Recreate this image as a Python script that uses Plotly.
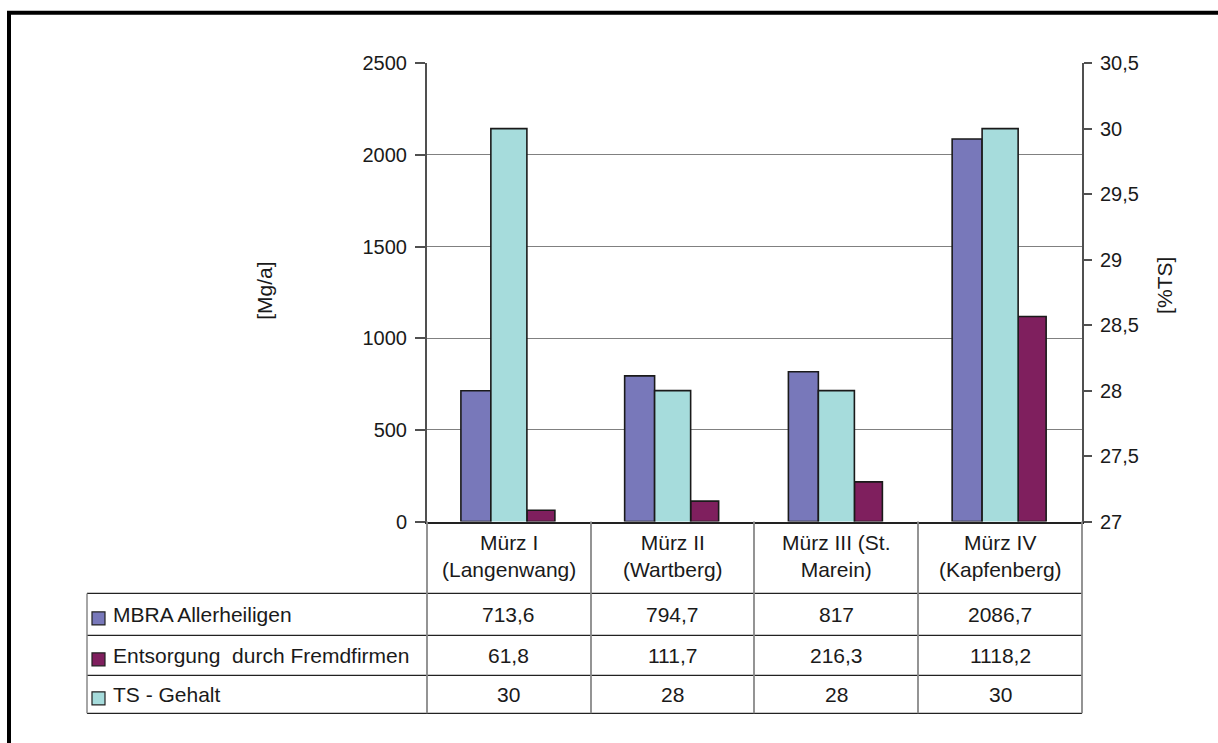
import plotly.graph_objects as go

# ---------------- data ----------------
categories = ["Mürz I (Langenwang)", "Mürz II (Wartberg)", "Mürz III (St. Marein)", "Mürz IV (Kapfenberg)"]
category_labels = ["Mürz I<br>(Langenwang)", "Mürz II<br>(Wartberg)", "Mürz III (St.<br>Marein)", "Mürz IV<br>(Kapfenberg)"]
series_names = ["MBRA Allerheiligen", "Entsorgung  durch Fremdfirmen", "TS - Gehalt"]
mbra = [713.6, 794.7, 817, 2086.7]
entsorgung = [61.8, 111.7, 216.3, 1118.2]
ts_gehalt = [30, 28, 28, 30]

left_ticks = [0, 500, 1000, 1500, 2000, 2500]
right_ticks = [27, 27.5, 28, 28.5, 29, 29.5, 30, 30.5]

# ---------------- style ----------------
W, H = 1218, 743
FONT = "Liberation Sans, Arial, sans-serif"
FS_TICK = 20
FS = 21
C_MBRA = "#7878BA"
C_ENT = "#7F1F5E"
C_TS = "#A6DCDC"
AXIS_C = "#505050"
GRID_C = "#808080"

# vertical calibration of the page capture
Y_OFF, Y_K = 9.75, 0.9717


def px(x):
    return x / W


def py(y):
    yf = (y - Y_OFF) / Y_K
    return 1 - yf / H


X_L, X_R = 427, 1082
Y_T, Y_B = 62, 521


def fmt(v):
    return ("%g" % v).replace(".", ",")


fig = go.Figure()

bar_line = dict(color="#1a1a1a", width=1.6)
fig.add_trace(go.Bar(x=categories, y=mbra, name=series_names[0], marker=dict(color=C_MBRA, line=bar_line),
                     offset=-0.293, width=0.183, yaxis="y", showlegend=False))
fig.add_trace(go.Bar(x=categories, y=ts_gehalt, name=series_names[2], marker=dict(color=C_TS, line=bar_line),
                     offset=-0.110, width=0.220, yaxis="y2", showlegend=False))
fig.add_trace(go.Bar(x=categories, y=entsorgung, name=series_names[1], marker=dict(color=C_ENT, line=bar_line),
                     offset=0.110, width=0.171, yaxis="y", showlegend=False))

fig.update_layout(
    width=W, height=H,
    margin=dict(l=0, r=0, t=0, b=0),
    paper_bgcolor="white", plot_bgcolor="white",
    separators=",.",
    barmode="overlay",
    font=dict(family=FONT, size=FS, color="#1a1a1a"),
    xaxis=dict(domain=[px(X_L), px(X_R)], type="category", range=[-0.5, 3.5],
               showticklabels=False, ticks="", showgrid=False, zeroline=False,
               showline=True, linecolor="#222222", linewidth=1.5),
    yaxis=dict(domain=[py(Y_B), py(Y_T)], range=[0, 2500], tickvals=left_ticks,
               showgrid=True, gridcolor=GRID_C, gridwidth=1, zeroline=False,
               showline=True, linecolor=AXIS_C, linewidth=2,
               ticks="outside", ticklen=10, tickcolor=AXIS_C, tickwidth=1.5,
               ticklabelstandoff=4, tickfont=dict(size=FS_TICK)),
    yaxis2=dict(overlaying="y", side="right", anchor="x", range=[27, 30.5], tickvals=right_ticks,
                ticktext=[fmt(t) for t in right_ticks],
                showgrid=False, zeroline=False,
                showline=True, linecolor=AXIS_C, linewidth=2,
                ticks="outside", ticklen=8, tickcolor=AXIS_C, tickwidth=1.5,
                ticklabelstandoff=4, tickfont=dict(size=FS_TICK)),
)

shapes = []
ann = []

# outer frame (top and left visible)
shapes.append(dict(type="rect", xref="paper", yref="paper", x0=px(9), x1=px(W + 20), y0=-0.1, y1=py(11.5),
                   line=dict(color="black", width=4), layer="above"))

# table geometry
T_LEFT = 87
ROW_Y = [593, 635, 675, 713]
COL_X = [X_L, 591, 754, 918, X_R]
H_LINE = "#222222"
V_LINE = "#888888"

for y in ROW_Y:
    shapes.append(dict(type="line", xref="paper", yref="paper", x0=px(T_LEFT), x1=px(X_R), y0=py(y), y1=py(y),
                       line=dict(color=H_LINE, width=1.3)))
shapes.append(dict(type="line", xref="paper", yref="paper", x0=px(T_LEFT), x1=px(T_LEFT), y0=py(ROW_Y[0]), y1=py(ROW_Y[-1]),
                   line=dict(color=V_LINE, width=1.5)))
for x in COL_X:
    shapes.append(dict(type="line", xref="paper", yref="paper", x0=px(x), x1=px(x), y0=py(Y_B), y1=py(ROW_Y[-1]),
                       line=dict(color=V_LINE, width=1.8)))

# category labels in header row
for cat, lab in zip(categories, category_labels):
    ann.append(dict(x=cat, xref="x", y=py(555), yref="paper", text=lab, showarrow=False,
                    xanchor="center", yanchor="middle", font=dict(size=FS), align="center"))

# table rows
rows = [(series_names[0], C_MBRA, mbra), (series_names[1], C_ENT, entsorgung), (series_names[2], C_TS, ts_gehalt)]
for i, (name, col, vals) in enumerate(rows):
    yc = (ROW_Y[i] + ROW_Y[i + 1]) / 2
    shapes.append(dict(type="rect", xref="paper", yref="paper", x0=px(92), x1=px(105),
                       y0=py(yc + 10.5), y1=py(yc - 2.5), fillcolor=col, line=dict(color="#222222", width=1.2)))
    ann.append(dict(x=px(111), xref="paper", y=py(yc), yref="paper", text=name, showarrow=False,
                    xanchor="left", yanchor="middle", font=dict(size=FS)))
    for cat, v in zip(categories, vals):
        ann.append(dict(x=cat, xref="x", y=py(yc), yref="paper", text=fmt(v), showarrow=False,
                        xanchor="center", yanchor="middle", font=dict(size=FS)))

# axis titles
ann.append(dict(x=px(265), xref="paper", y=py(290), yref="paper", text="[Mg/a]", textangle=-90,
                showarrow=False, xanchor="center", yanchor="middle", font=dict(size=FS)))
ann.append(dict(x=px(1165), xref="paper", y=py(285), yref="paper", text="[%TS]", textangle=-90,
                showarrow=False, xanchor="center", yanchor="middle", font=dict(size=FS)))

fig.update_layout(shapes=shapes, annotations=ann)
fig.write_html("out.html")
